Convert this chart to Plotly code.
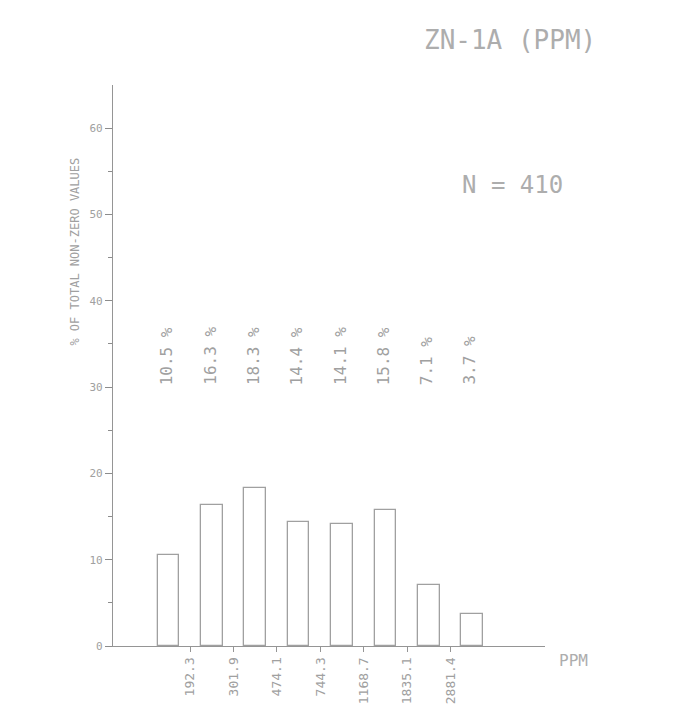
import plotly.graph_objects as go

bin_edges = ["192.3", "301.9", "474.1", "744.3", "1168.7", "1835.1", "2881.4"]
percents = [10.5, 16.3, 18.3, 14.4, 14.1, 15.8, 7.1, 3.7]
pct_labels = ["10.5 %", "16.3 %", "18.3 %", "14.4 %", "14.1 %", "15.8 %", "7.1 %", "3.7 %"]
title_text = "ZN-1A (PPM)"
n_text = "N = 410"
y_title = "% OF TOTAL NON-ZERO VALUES"

FONT = "DejaVu Sans Mono"
TXT = "#a0a0a0"
LINE = "#959595"

bin_pos = list(range(len(percents)))
edge_pos = [i + 0.5 for i in range(len(bin_edges))]

fig = go.Figure()
fig.add_trace(go.Bar(
    x=bin_pos, y=percents, width=0.5,
    marker=dict(color="white", line=dict(color="#a0a0a0", width=1.3)),
    hoverinfo="skip", showlegend=False,
))

for xp, lab in zip(bin_pos, pct_labels):
    fig.add_annotation(x=xp - 0.05, y=30.0, text=lab, textangle=-90, showarrow=False,
                       xanchor="center", yanchor="bottom",
                       font=dict(family=FONT, size=16, color=TXT))

fig.add_annotation(x=0.919, y=1.08, xref="paper", yref="paper", text=title_text,
                   showarrow=False, xanchor="center", yanchor="middle",
                   font=dict(family=FONT, size=26, color="#adadad"))
fig.add_annotation(x=0.924, y=0.822, xref="paper", yref="paper", text=n_text,
                   showarrow=False, xanchor="center", yanchor="middle",
                   font=dict(family=FONT, size=24, color="#adadad"))
fig.add_annotation(x=1.065, y=-0.025, xref="paper", yref="paper", text="PPM",
                   showarrow=False, xanchor="center", yanchor="middle",
                   font=dict(family=FONT, size=16, color="#adadad"))
fig.add_annotation(x=-0.088, y=0.703, xref="paper", yref="paper", text=y_title,
                   textangle=-90, showarrow=False, xanchor="center", yanchor="middle",
                   font=dict(family=FONT, size=12, color=TXT))

fig.update_layout(
    width=679, height=708,
    margin=dict(l=105, r=142, t=77, b=66),
    paper_bgcolor="white", plot_bgcolor="white",
    bargap=0,
    xaxis=dict(
        range=[-1.276, 8.678], tickmode="array", tickvals=edge_pos, ticktext=bin_edges,
        tickangle=-90, ticks="outside", ticklen=5, tickwidth=1.2, tickcolor=LINE,
        showline=True, linecolor=LINE, linewidth=1.2, showgrid=False, zeroline=False,
        tickfont=dict(family=FONT, size=13, color=TXT),
    ),
    yaxis=dict(
        range=[0, 65], tickmode="array", tickvals=[0, 10, 20, 30, 40, 50, 60],
        ticks="outside", ticklen=7, tickwidth=1.2, tickcolor="#8c8c8c", ticksuffix=" ",
        minor=dict(tickvals=[5, 15, 25, 35, 45, 55], ticks="outside", ticklen=4,
                   tickwidth=1.2, tickcolor="#8c8c8c"),
        showline=True, linecolor=LINE, linewidth=1.2, showgrid=False, zeroline=False,
        tickfont=dict(family=FONT, size=11, color=TXT),
    ),
)

fig.write_html("out.html")
